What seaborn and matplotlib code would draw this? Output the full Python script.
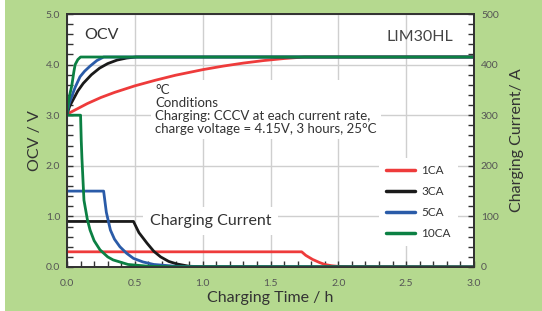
import numpy as np
import pandas as pd
import matplotlib
matplotlib.use("Agg")
import matplotlib.pyplot as plt
from matplotlib.patches import Rectangle
import seaborn as sns

sns.set_theme(style="white")
plt.rcParams['font.family'] = ['Lato', 'DejaVu Sans']

# ---- data ----
rates = ["1CA", "3CA", "5CA", "10CA"]
colors = ["#ee3b3b", "#1a1a1a", "#2a5ba8", "#0b8043"]

# OCV (V) vs charging time (h)
ocv_t_1 = [0, 0.05, 0.1, 0.15, 0.25, 0.35, 0.5, 0.65, 0.8, 1.0, 1.15, 1.3, 1.45, 1.6, 1.75, 3.0]
ocv_v_1 = [3.02, 3.09, 3.16, 3.23, 3.35, 3.45, 3.58, 3.69, 3.79, 3.90, 3.97, 4.03, 4.08, 4.12, 4.15, 4.15]
ocv_t_3 = [0, 0.02, 0.05, 0.08, 0.12, 0.18, 0.24, 0.30, 0.37, 0.44, 0.51, 3.0]
ocv_v_3 = [3.02, 3.18, 3.33, 3.48, 3.63, 3.80, 3.93, 4.02, 4.09, 4.13, 4.15, 4.15]
ocv_t_5 = [0, 0.015, 0.035, 0.06, 0.096, 0.13, 0.17, 0.22, 0.27, 3.0]
ocv_v_5 = [3.02, 3.22, 3.37, 3.55, 3.76, 3.87, 3.97, 4.08, 4.15, 4.15]
ocv_t_10 = [0, 0.01, 0.02, 0.035, 0.05, 0.06, 0.08, 0.1, 3.0]
ocv_v_10 = [3.02, 3.25, 3.40, 3.58, 3.85, 4.00, 4.10, 4.15, 4.15]

# Charging current (A) vs charging time (h)
cur_t_1 = [0, 1.73, 1.76, 1.81, 1.86, 1.9, 1.95, 2.0, 2.1, 3.0]
cur_a_1 = [30, 30, 23, 15, 9, 5, 2.5, 1.2, 0.5, 0]
cur_t_3 = [0, 0.49, 0.53, 0.59, 0.64, 0.69, 0.75, 0.81, 0.9, 1.0, 3.0]
cur_a_3 = [90, 90, 68, 47, 31, 20, 11, 6, 1.5, 0.5, 0]
cur_t_5 = [0, 0.27, 0.29, 0.32, 0.35, 0.39, 0.44, 0.49, 0.56, 0.64, 0.8, 1.0, 3.0]
cur_a_5 = [150, 150, 108, 73, 55, 40, 27, 17, 10, 5, 1.5, 0.5, 0]
cur_t_10 = [0, 0.1, 0.105, 0.11, 0.125, 0.15, 0.17, 0.2, 0.243, 0.3, 0.34, 0.45, 0.6, 0.8, 3.0]
cur_a_10 = [300, 300, 250, 215, 132, 94, 73, 52, 34, 20, 14, 5, 1.5, 0.5, 0]

ocv_df = pd.concat([
    pd.DataFrame({"t": t, "v": v, "rate": r})
    for t, v, r in zip([ocv_t_1, ocv_t_3, ocv_t_5, ocv_t_10],
                       [ocv_v_1, ocv_v_3, ocv_v_5, ocv_v_10], rates)
], ignore_index=True)
cur_df = pd.concat([
    pd.DataFrame({"t": t, "a": a, "rate": r})
    for t, a, r in zip([cur_t_1, cur_t_3, cur_t_5, cur_t_10],
                       [cur_a_1, cur_a_3, cur_a_5, cur_a_10], rates)
], ignore_index=True)

palette = dict(zip(rates, colors))
bg = "#b5d98f"
tick_col = "#555555"
spine_col = "#333333"

fig = plt.figure(figsize=(5.42, 3.11), dpi=100)
fig.patch.set_facecolor(bg)
fig.patches.append(Rectangle((0, 0), 5 / 542, 1, transform=fig.transFigure,
                             facecolor="white", edgecolor="none", zorder=-1))
ax = fig.add_axes([67 / 542, 44 / 311, 407 / 542, 253 / 311])
ax.set_facecolor("white")
ax2 = ax.twinx()

sns.lineplot(data=ocv_df, x="t", y="v", hue="rate", palette=palette,
             hue_order=rates, ax=ax, linewidth=2.0, legend=False,
             estimator=None, sort=False)
sns.lineplot(data=cur_df, x="t", y="a", hue="rate", palette=palette,
             hue_order=rates, ax=ax2, linewidth=2.0, legend=False,
             estimator=None, sort=False)

ax.set_xlim(0, 3.0)
ax.set_ylim(0, 5.0)
ax2.set_ylim(0, 500)

ax.set_xticks(np.arange(0, 3.01, 0.5))
ax.set_xticks(np.arange(0, 3.01, 0.1), minor=True)
ax.set_yticks(np.arange(0, 5.01, 1.0))
ax.set_yticks(np.arange(0, 5.01, 0.2), minor=True)
ax2.set_yticks(np.arange(0, 501, 100))
ax2.set_yticks(np.arange(0, 501, 20), minor=True)
ax.set_xticklabels([f"{v:.1f}" for v in np.arange(0, 3.01, 0.5)])
ax.set_yticklabels([f"{v:.1f}" for v in np.arange(0, 5.01, 1.0)])
ax2.set_yticklabels([f"{int(v)}" for v in np.arange(0, 501, 100)])

ax.grid(True, which="major", color="#cfcfcf", linewidth=1.0)
ax.set_axisbelow(True)

for a in (ax, ax2):
    for s in a.spines.values():
        s.set_color(spine_col)
        s.set_linewidth(1.3)
ax.tick_params(axis="both", which="both", direction="in", color=spine_col,
               labelsize=7.5, labelcolor=tick_col, left=True, bottom=True,
               top=False, right=False)
ax.tick_params(axis="both", which="major", length=4, width=1)
ax.tick_params(axis="both", which="minor", length=4, width=1)
ax.tick_params(axis="x", pad=9)
ax.tick_params(axis="y", pad=5)
ax2.tick_params(axis="y", which="both", direction="in", color=spine_col,
                labelsize=7.5, labelcolor=tick_col, length=4, width=1,
                right=True, left=False, pad=5)

ax.set_xlabel("Charging Time / h", fontsize=11.5, color="#333333", labelpad=2)
ax.set_ylabel("OCV / V", fontsize=11.5, color="#333333", labelpad=3)
ax2.set_ylabel("Charging Current/ A", fontsize=11.5, color="#333333", labelpad=8)

ax.text(0.13, 4.58, "OCV", fontsize=11.5, color="#333333", va="center", ha="left")
ax.text(2.85, 4.55, "LIM30HL", fontsize=11.5, color="#444444", va="center", ha="right")
ax.text(0.65, 3.62, "°C\nConditions\nCharging: CCCV at each current rate,\ncharge voltage = 4.15V, 3 hours, 25°C",
        fontsize=9.5, color="#333333", va="top", ha="left", linespacing=1.1,
        bbox=dict(facecolor="white", edgecolor="none", pad=3), zorder=1.5)
ax.text(0.61, 0.91, "Charging Current", fontsize=11.5, color="#333333",
        va="center", ha="left",
        bbox=dict(facecolor="white", edgecolor="none", pad=5), zorder=1.5)

handles = [plt.Line2D([], [], color=c, linewidth=2.5) for c in colors]
leg = ax2.legend(handles, rates, loc="lower right", bbox_to_anchor=(0.975, 0.06),
                 frameon=True, fontsize=8.5, handlelength=2.5, handletextpad=0.5,
                 labelspacing=0.85, borderpad=0.6, fancybox=False)
leg.get_frame().set_facecolor("white")
leg.get_frame().set_edgecolor("none")
leg.get_frame().set_alpha(1.0)
for t in leg.get_texts():
    t.set_color("#333333")

fig.savefig("out.png", dpi=100, facecolor=bg)
